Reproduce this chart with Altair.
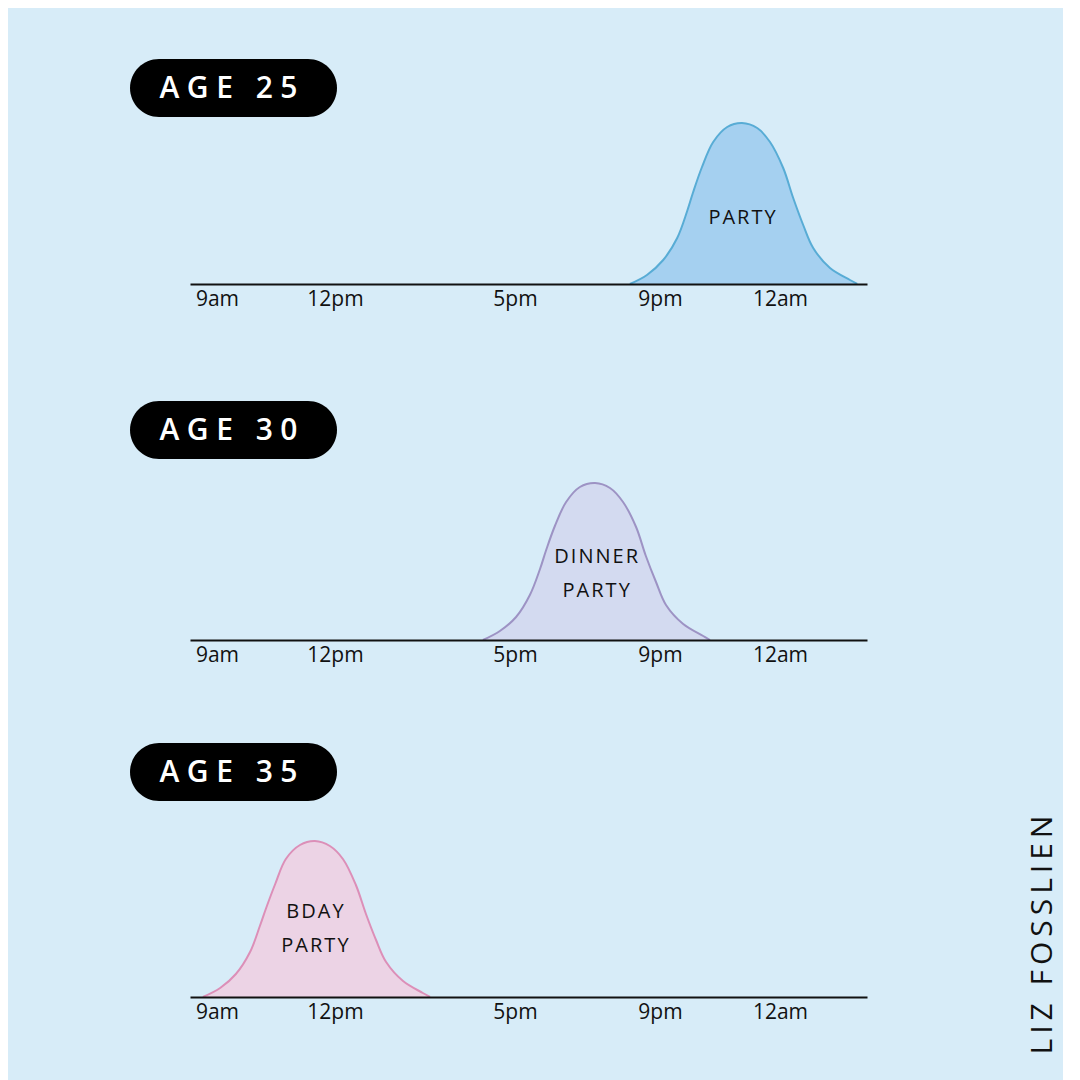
import altair as alt
import pandas as pd

# ---------------- data ----------------
ages = ["AGE 25", "AGE 30", "AGE 35"]
tick_hours = [9, 12, 17, 21, 24]
tick_labels = ["9am", "12pm", "5pm", "9pm", "12am"]

party_hours = [20.17, 20.64, 21.08, 21.43, 21.68, 21.83, 22.05, 22.33, 22.68, 23.05,
               23.43, 23.75, 24.08, 24.33, 24.58, 24.83, 25.25, 25.75, 25.93]
party_vals = [0, 9, 24, 46, 73, 92, 117, 142, 157, 161, 156, 142, 116, 86, 59, 36, 16, 4, 0]

dinner_hours = [16.11, 16.58, 17.03, 17.41, 17.69, 17.86, 18.10, 18.41, 18.79, 19.21,
                19.62, 19.98, 20.34, 20.61, 20.89, 21.15, 21.58, 22.08, 22.25]
dinner_vals = [0, 9, 23, 45, 71, 90, 114, 138, 153, 157, 152, 138, 113, 84, 58, 35, 16, 4, 0]

bday_hours = [8.64, 9.08, 9.48, 9.84, 10.09, 10.25, 10.48, 10.75, 11.11, 11.49,
              11.87, 12.22, 12.58, 12.86, 13.14, 13.42, 13.89, 14.44, 14.64]
bday_vals = [0, 9, 23, 45, 71, 89, 113, 138, 152, 156, 151, 138, 112, 83, 57, 35, 16, 4, 0]

label_lines = [["PARTY"], ["DINNER", "PARTY"], ["BDAY", "PARTY"]]
label_hours = [23.05, 19.24, 11.49]
label_heights = [[66], [83, 49], [85, 51]]

signature = "LIZ FOSSLIEN"

# ---------------- style / layout ----------------
BG = "#d7ecf8"
FONT = "Open Sans"
fills = ["#a5d0f0", "#d3daf0", "#ecd3e5"]
strokes = ["#58acd5", "#9d93c4", "#dc8fb8"]
panel_heights = [254, 254, 255]
pill_tops = [29, 15, 1]
W = 677

curves = [(party_hours, party_vals), (dinner_hours, dinner_vals), (bday_hours, bday_vals)]

label_expr = " : ".join(
    [f"datum.value == {h} ? '{t}'" for h, t in zip(tick_hours, tick_labels)]
) + " : ''"

x_scale = alt.Scale(
    domain=[8.31, 9, 12, 17, 21, 24, 26.175],
    range=[0, 27, 145, 325, 470, 590, W],
    zero=False,
    nice=False,
)


def spaced(s, sep="\u2009"):
    return sep.join(list(s))


panels = []
for i in range(3):
    h = panel_heights[i]
    hrs, vals = curves[i]
    df = pd.DataFrame({"hour": hrs, "v": vals})
    y_scale = alt.Scale(domain=[0, h], nice=False, zero=False)

    x_enc = alt.X(
        "hour:Q",
        scale=x_scale,
        axis=alt.Axis(
            values=tick_hours,
            labelExpr=label_expr,
            title=None,
            grid=False,
            ticks=False,
            domainColor="#111111",
            domainWidth=2,
            labelFont=FONT,
            labelFontSize=21,
            labelColor="#111111",
            labelPadding=4,
            labelFlush=False,
            labelAngle=0,
            zindex=1,
        ),
    )
    y_enc = alt.Y("v:Q", scale=y_scale, axis=None)

    area = alt.Chart(df).mark_area(
        color=fills[i], interpolate="catmull-rom", opacity=1
    ).encode(x=x_enc, y=y_enc)
    line = alt.Chart(df).mark_line(
        color=strokes[i], strokeWidth=2, interpolate="catmull-rom"
    ).encode(x="hour:Q", y="v:Q")

    ldf = pd.DataFrame(
        {
            "hour": [label_hours[i]] * len(label_lines[i]),
            "v": label_heights[i],
            "txt": [spaced(t, "\u200a") for t in label_lines[i]],
        }
    )
    labels = alt.Chart(ldf).mark_text(
        font=FONT, fontSize=20, color="#111111", align="center", baseline="middle"
    ).encode(x="hour:Q", y="v:Q", text="txt:N")

    pdf = pd.DataFrame({"age": [spaced(ages[i], "\u2005")]})
    pt = pill_tops[i]
    pill = alt.Chart(pdf).mark_rect(color="black", cornerRadius=29).encode(
        x=alt.value(-60), x2=alt.value(147), y=alt.value(pt), y2=alt.value(pt + 58)
    )
    pill_text = alt.Chart(pdf).mark_text(
        font=FONT, fontSize=30, fontWeight=600, color="white",
        align="center", baseline="middle",
    ).encode(x=alt.value(38.5), y=alt.value(pt + 30), text="age:N")

    layers = [area, line, labels, pill, pill_text]
    if i == 2:
        sdf = pd.DataFrame({"s": [spaced(signature, "\u2009")]})
        sig = alt.Chart(sdf).mark_text(
            font=FONT, fontSize=30, color="#111111", angle=270,
            align="center", baseline="middle",
        ).encode(x=alt.value(853), y=alt.value(193), text="s:N")
        layers.append(sig)

    panels.append(alt.layer(*layers).properties(width=W, height=h))

chart = alt.vconcat(*panels, spacing=77).properties(
    background=BG,
    padding={"left": 122, "top": 22, "right": 5, "bottom": 30},
).configure_view(stroke=None)

chart.save("out.html", embed_options={"renderer": "svg", "actions": False})
